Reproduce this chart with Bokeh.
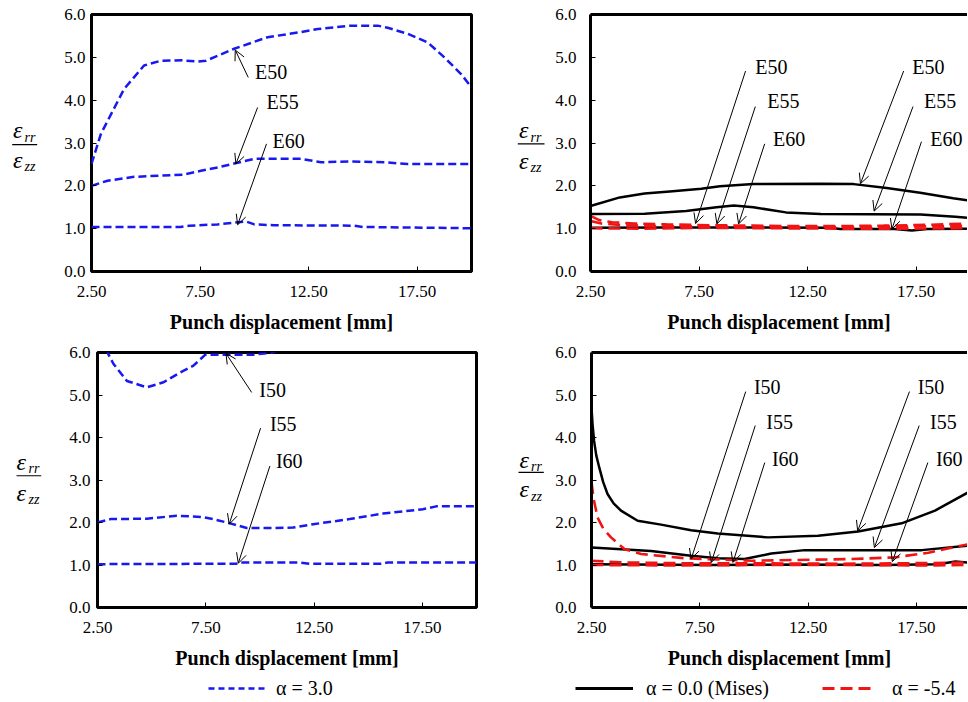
from bokeh.plotting import figure
from bokeh.models import (Range1d, FixedTicker, Arrow, OpenHead, LinearAxis,
                          Legend, LegendItem, ColumnDataSource)
from bokeh.layouts import column, row
from bokeh.embed import file_html
from bokeh.resources import INLINE
from bokeh.core.properties import value

FONT = "Liberation Serif"

# ---------------- data ----------------
x_ticks = [2.5, 7.5, 12.5, 17.5]
x_tick_labels = ["2.50", "7.50", "12.50", "17.50"]
y_ticks = [0, 1, 2, 3, 4, 5, 6]
y_tick_labels = ["0.0", "1.0", "2.0", "3.0", "4.0", "5.0", "6.0"]
x_label = "Punch displacement [mm]"
legend_labels = ["α = 3.0", "α = 0.0 (Mises)", "α = -5.4"]

# top-left: external, alpha = 3.0
e50_a3_x = [2.5, 2.93, 4.0, 4.92, 5.69, 6.69, 7.38, 7.77, 9.07, 10.61, 12.15, 12.92, 14.45, 15.68, 16.14, 17.06, 17.98, 18.75, 19.52, 20.0]
e50_a3_y = [2.51, 3.21, 4.26, 4.81, 4.92, 4.93, 4.90, 4.92, 5.20, 5.47, 5.59, 5.66, 5.74, 5.74, 5.69, 5.55, 5.35, 5.00, 4.61, 4.30]
e55_a3_x = [2.5, 3.24, 4.46, 6.69, 7.54, 8.31, 9.07, 10.0, 12.15, 13.07, 14.45, 15.99, 17.06, 20.0]
e55_a3_y = [2.00, 2.12, 2.21, 2.26, 2.35, 2.43, 2.52, 2.63, 2.63, 2.55, 2.57, 2.55, 2.51, 2.51]
e60_a3_x = [2.5, 6.6, 7.0, 8.3, 9.6, 10.0, 10.9, 14.6, 15.0, 20.0]
e60_a3_y = [1.04, 1.04, 1.07, 1.10, 1.17, 1.10, 1.08, 1.07, 1.04, 1.01]

# top-right: external, alpha = 0.0 and alpha = -5.4
e50_a0_x = [2.5, 3.85, 4.99, 6.15, 7.6, 8.46, 10.0, 13.08, 14.62, 16.14, 17.68, 19.2, 20.0]
e50_a0_y = [1.53, 1.73, 1.82, 1.87, 1.93, 1.99, 2.04, 2.05, 2.04, 1.95, 1.84, 1.71, 1.65]
e55_a0_x = [2.5, 5.0, 6.9, 8.3, 9.1, 10.0, 11.5, 13.1, 17.7, 19.3, 20.0]
e55_a0_y = [1.34, 1.35, 1.41, 1.50, 1.54, 1.50, 1.38, 1.34, 1.33, 1.28, 1.25]
e60_a0_x = [2.5, 6.0, 10.0, 13.5, 14.0, 16.5, 17.3, 18.0, 20.0]
e60_a0_y = [1.02, 1.03, 1.03, 1.02, 0.99, 0.99, 0.96, 0.99, 1.00]
e50_am_x = [2.5, 2.9, 3.5, 4.5, 6.0, 8.0, 10.0, 12.0, 14.0, 16.0, 18.0, 20.0]
e50_am_y = [1.30, 1.20, 1.15, 1.12, 1.10, 1.08, 1.07, 1.06, 1.06, 1.07, 1.09, 1.12]
e55_am_x = [2.5, 3.0, 4.0, 5.5, 8.0, 11.0, 14.0, 17.0, 20.0]
e55_am_y = [1.18, 1.12, 1.08, 1.06, 1.05, 1.04, 1.04, 1.05, 1.07]
e60_am_x = [2.5, 5.0, 8.0, 11.0, 14.0, 17.0, 20.0]
e60_am_y = [1.01, 1.00, 1.02, 1.01, 1.00, 1.00, 1.01]

# bottom-left: internal, alpha = 3.0
i50_a3_x = [2.5, 3.0, 3.24, 3.86, 4.78, 5.55, 6.32, 6.93, 7.48, 8.48, 9.71, 10.6, 11.2]
i50_a3_y = [6.60, 5.96, 5.73, 5.33, 5.18, 5.30, 5.53, 5.69, 5.95, 5.95, 5.95, 6.00, 6.15]
i55_a3_x = [2.5, 3.1, 4.78, 6.16, 7.33, 7.85, 8.62, 9.39, 10.3, 11.53, 12.46, 14.14, 15.68, 17.52, 18.14, 20.0]
i55_a3_y = [2.00, 2.08, 2.09, 2.16, 2.13, 2.08, 1.98, 1.87, 1.87, 1.88, 1.96, 2.08, 2.21, 2.31, 2.38, 2.38]
i60_a3_x = [2.5, 8.9, 9.1, 11.8, 12.3, 15.6, 15.9, 20.0]
i60_a3_y = [1.02, 1.03, 1.06, 1.06, 1.03, 1.03, 1.06, 1.06]

# bottom-right: internal, alpha = 0.0 and alpha = -5.4
i50_a0_x = [2.5, 2.55, 2.62, 2.72, 2.86, 3.04, 3.24, 3.52, 3.86, 4.63, 5.71, 7.1, 8.33, 10.65, 12.96, 14.81, 16.82, 18.36, 20.0]
i50_a0_y = [4.70, 4.30, 3.92, 3.58, 3.29, 2.95, 2.67, 2.45, 2.28, 2.04, 1.95, 1.82, 1.74, 1.65, 1.69, 1.79, 1.98, 2.28, 2.74]
i55_a0_x = [2.5, 5.25, 7.1, 8.33, 9.57, 10.8, 12.35, 13.9, 17.75, 20.0]
i55_a0_y = [1.41, 1.33, 1.22, 1.16, 1.14, 1.27, 1.35, 1.35, 1.35, 1.46]
i60_a0_x = [2.5, 8.0, 12.0, 16.0, 18.5, 19.3, 20.0]
i60_a0_y = [1.02, 1.00, 1.01, 1.00, 1.02, 1.08, 1.05]
i50_am_x = [2.5, 2.6, 2.78, 3.05, 3.4, 4.03, 4.79, 6.79, 9.88, 14.5, 16.51, 18.06, 20.0]
i50_am_y = [2.95, 2.55, 2.12, 1.85, 1.65, 1.37, 1.26, 1.16, 1.10, 1.14, 1.18, 1.29, 1.50]
i55_am_x = [2.5, 4.0, 7.0, 10.0, 14.0, 17.0, 20.0]
i55_am_y = [1.10, 1.06, 1.04, 1.04, 1.03, 1.04, 1.06]
i60_am_x = [2.5, 6.0, 10.0, 14.0, 18.0, 20.0]
i60_am_y = [1.00, 0.99, 1.00, 1.00, 0.99, 1.00]

# annotations (label text, label position, arrow tail, arrow tip)
tl_ann = ["E50", "E55", "E60"]
tl_tx = [10.03, 10.56, 10.84]
tl_ty = [4.65, 3.95, 3.05]
tl_x0 = [9.72, 10.15, 10.56]
tl_y0 = [4.53, 3.83, 2.98]
tl_x1 = [9.12, 9.15, 9.23]
tl_y1 = [5.17, 2.51, 1.09]

tr_ann = ["E50", "E55", "E60", "E50", "E55", "E60"]
tr_tx = [10.09, 10.64, 10.90, 17.32, 17.86, 18.15]
tr_ty = [4.77, 3.97, 3.09, 4.77, 3.97, 3.09]
tr_x0 = [9.64, 10.09, 10.52, 16.92, 17.35, 17.74]
tr_y0 = [4.68, 3.85, 2.98, 4.68, 3.85, 3.03]
tr_x1 = [7.34, 8.32, 9.32, 14.93, 15.56, 16.38]
tr_y1 = [1.12, 1.11, 1.11, 2.05, 1.41, 0.99]

bl_ann = ["I50", "I55", "I60"]
bl_tx = [9.97, 10.46, 10.74]
bl_ty = [5.12, 4.31, 3.44]
bl_x0 = [9.62, 10.03, 10.46]
bl_y0 = [5.06, 4.22, 3.33]
bl_x1 = [8.43, 8.58, 9.00]
bl_y1 = [5.98, 1.96, 1.04]

br_ann = ["I50", "I55", "I60", "I50", "I55", "I60"]
br_tx = [10.00, 10.57, 10.83, 17.56, 18.13, 18.40]
br_ty = [5.18, 4.37, 3.49, 5.18, 4.37, 3.49]
br_x0 = [9.62, 10.06, 10.50, 17.18, 17.63, 18.03]
br_y0 = [5.08, 4.28, 3.41, 5.08, 4.28, 3.41]
br_x1 = [7.10, 8.03, 9.03, 14.79, 15.56, 16.39]
br_y1 = [1.14, 1.06, 1.06, 1.80, 1.41, 1.08]

BLUE = "#1818F0"
RED = "#F01414"
BLACK = "#000000"
DASH_BLUE = "8 4"
DASH_RED = "12 6"
W_BLUE, W_BLACK, W_RED = 2.5, 2.5, 2.6


def make_fig(width, height, xend, bl, br, bt, bb, right_cut, ylab_standoff):
    p = figure(width=width, height=height, x_range=Range1d(2.5, xend), y_range=Range1d(0, 6),
               output_backend="svg", toolbar_location=None,
               min_border_left=bl, min_border_right=br, min_border_top=bt, min_border_bottom=bb)
    p.grid.visible = False
    p.background_fill_color = "white"
    p.border_fill_color = "white"
    xa = p.xaxis[0]
    ya = p.yaxis[0]
    xa.ticker = FixedTicker(ticks=x_ticks)
    xa.major_label_overrides = {t: s for t, s in zip(x_ticks, x_tick_labels)}
    ya.ticker = FixedTicker(ticks=y_ticks)
    ya.major_label_overrides = {t: s for t, s in zip(y_ticks, y_tick_labels)}
    for ax in (xa, ya):
        ax.major_tick_in = 5
        ax.major_tick_out = 0
        ax.major_tick_line_color = "black"
        ax.major_tick_line_width = 1
        ax.minor_tick_line_color = None
        ax.major_label_text_font = FONT
        ax.major_label_text_font_size = "17px"
        ax.major_label_text_color = "black"
    xa.major_label_standoff = 14
    ya.major_label_standoff = ylab_standoff
    xa.axis_label = x_label
    xa.axis_label_text_font = FONT
    xa.axis_label_text_font_style = "bold"
    xa.axis_label_text_font_size = "20px"
    xa.axis_label_text_color = "black"
    xa.axis_label_standoff = 11
    if right_cut:
        p.outline_line_color = None
        for ax in (xa, ya):
            ax.axis_line_color = "black"
            ax.axis_line_width = 3
        top = LinearAxis(ticker=FixedTicker(ticks=[]), axis_line_width=3, axis_line_color="black",
                         major_tick_line_color=None, minor_tick_line_color=None,
                         major_label_text_font_size="0px")
        p.add_layout(top, "above")
    else:
        p.outline_line_color = "black"
        p.outline_line_width = 3
        xa.axis_line_color = None
        ya.axis_line_color = None
    return p


def make_ylab(width, height, bt, bb, eps_x, sub_x, y_num, y_den, bar_x0, bar_x1, y_bar):
    # narrow panel holding the fraction-style y-axis title  eps_rr / eps_zz
    q = figure(width=width, height=height, x_range=Range1d(0, width), y_range=Range1d(0, 6),
               output_backend="svg", toolbar_location=None, x_axis_location=None,
               y_axis_location=None, min_border_left=0, min_border_right=0,
               min_border_top=bt, min_border_bottom=bb)
    q.grid.visible = False
    q.outline_line_color = None
    q.background_fill_color = "white"
    q.border_fill_color = "white"
    q.text(x=[eps_x, eps_x], y=[y_num, y_den], text=["ε", "ε"], text_font=value(FONT),
           text_font_style="italic", text_font_size="24px", text_baseline="middle",
           text_align="left", text_color="black")
    q.text(x=[sub_x, sub_x], y=[y_num - 0.16, y_den - 0.16], text=["rr", "zz"],
           text_font=value(FONT), text_font_style="italic", text_font_size="14px",
           text_baseline="middle", text_align="left", text_color="black")
    q.segment(x0=[bar_x0], y0=[y_bar], x1=[bar_x1], y1=[y_bar], line_color="black", line_width=1.2)
    return q


def add_annotations(p, labels, tx, ty, x0, y0, x1, y1):
    src = ColumnDataSource(dict(x=tx, y=ty, text=labels))
    p.text(x="x", y="y", text="text", source=src, text_font=value(FONT), text_font_size="20px",
           text_baseline="middle", text_align="left", text_color="black")
    for a, b, c, d in zip(x0, y0, x1, y1):
        p.add_layout(Arrow(end=OpenHead(size=10, line_width=1, line_color="black"),
                           x_start=a, y_start=b, x_end=c, y_end=d,
                           line_width=1, line_color="black"))


# ---------------- figures ----------------
H1, T1, B1 = 340, 14, 69
H2, T2, B2 = 336, 12, 69

y1 = make_ylab(40, H1, T1, B1, 12.5, 24, 3.30, 2.60, 11.7, 36.7, 2.96)
p1 = make_fig(465, H1, 20.0, 51, 34, T1, B1, False, 6)
y2 = make_ylab(45, H1, T1, B1, 13.5, 25, 3.30, 2.59, 12.3, 39.0, 2.98)
p2 = make_fig(417, H1, 19.86, 40, 0, T1, B1, True, 14)

y3 = make_ylab(46, H2, T2, B2, 16.0, 28, 3.42, 2.70, 16.0, 40.7, 3.10)
p3 = make_fig(459, H2, 20.0, 51, 29, T2, B2, False, 7)
y4 = make_ylab(46, H2, T2, B2, 14.0, 25.5, 3.48, 2.78, 13.0, 38.3, 3.18)
p4 = make_fig(416, H2, 19.86, 40, 0, T2, B2, True, 15)

for xs, ys in [(e50_a3_x, e50_a3_y), (e55_a3_x, e55_a3_y), (e60_a3_x, e60_a3_y)]:
    p1.line(xs, ys, line_color=BLUE, line_width=W_BLUE, line_dash=DASH_BLUE)

for xs, ys in [(e50_a0_x, e50_a0_y), (e55_a0_x, e55_a0_y), (e60_a0_x, e60_a0_y)]:
    p2.line(xs, ys, line_color=BLACK, line_width=W_BLACK)
for xs, ys in [(e50_am_x, e50_am_y), (e55_am_x, e55_am_y), (e60_am_x, e60_am_y)]:
    p2.line(xs, ys, line_color=RED, line_width=W_RED, line_dash=DASH_RED)

for xs, ys in [(i50_a3_x, i50_a3_y), (i55_a3_x, i55_a3_y), (i60_a3_x, i60_a3_y)]:
    p3.line(xs, ys, line_color=BLUE, line_width=W_BLUE, line_dash=DASH_BLUE)

for xs, ys in [(i50_a0_x, i50_a0_y), (i55_a0_x, i55_a0_y), (i60_a0_x, i60_a0_y)]:
    p4.line(xs, ys, line_color=BLACK, line_width=W_BLACK)
for xs, ys in [(i50_am_x, i50_am_y), (i55_am_x, i55_am_y), (i60_am_x, i60_am_y)]:
    p4.line(xs, ys, line_color=RED, line_width=W_RED, line_dash=DASH_RED)

add_annotations(p1, tl_ann, tl_tx, tl_ty, tl_x0, tl_y0, tl_x1, tl_y1)
add_annotations(p2, tr_ann, tr_tx, tr_ty, tr_x0, tr_y0, tr_x1, tr_y1)
add_annotations(p3, bl_ann, bl_tx, bl_ty, bl_x0, bl_y0, bl_x1, bl_y1)
add_annotations(p4, br_ann, br_tx, br_ty, br_x0, br_y0, br_x1, br_y1)


# ---------------- legend row ----------------
def make_legend_fig(width, height):
    # the series are drawn here only to feed the legend; the view range lies
    # outside the data so that nothing but the legend is visible
    q = figure(width=width, height=height, x_range=Range1d(-width, 0), y_range=Range1d(0, height),
               output_backend="svg", toolbar_location=None, x_axis_location=None,
               y_axis_location=None, min_border=0)
    q.grid.visible = False
    q.outline_line_color = None
    q.background_fill_color = "white"
    q.border_fill_color = "white"
    return q


def legend(items, loc, gw, standoff):
    return Legend(items=items, orientation="horizontal", location=loc, glyph_width=gw,
                  glyph_height=24, label_standoff=standoff, label_text_font=FONT,
                  label_text_font_size="20px", label_text_color="black",
                  label_text_baseline="middle", label_height=24,
                  border_line_color=None, background_fill_alpha=0, padding=0, margin=0,
                  spacing=0)


LH = 24
la = make_legend_fig(505, LH)
lb = make_legend_fig(462, LH)
r_blue = la.line(i60_a3_x, i60_a3_y, line_color=BLUE, line_width=2.5, line_dash="6 4")
r_black = lb.line(i60_a0_x, i60_a0_y, line_color=BLACK, line_width=2.8)
r_red = lb.line(i60_am_x, i60_am_y, line_color=RED, line_width=3, line_dash=DASH_RED)

la.add_layout(legend([LegendItem(label=legend_labels[0], renderers=[r_blue])], (208, 0), 59, 9))
lb.add_layout(legend([LegendItem(label=legend_labels[1], renderers=[r_black])], (70, 0), 58, 13))
lb.add_layout(legend([LegendItem(label=legend_labels[2], renderers=[r_red])], (317, 0), 49, 21))

layout = column(row(y1, p1, y2, p2), row(y3, p3, y4, p4), row(la, lb))
open("out.html", "w").write(file_html(layout, INLINE))
